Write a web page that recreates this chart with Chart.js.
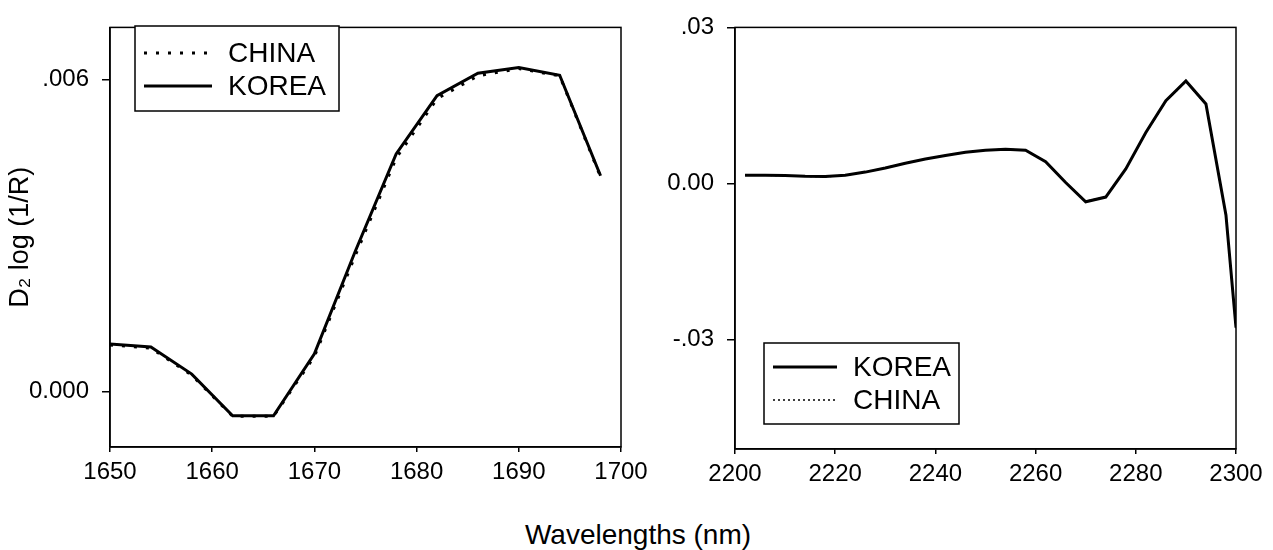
<!DOCTYPE html>
<html lang="en">
<head>
<meta charset="utf-8">
<title>D2 log (1/R) - China vs Korea</title>
<script src="https://cdn.jsdelivr.net/npm/chart.js@4.4.0/dist/chart.umd.min.js"></script>
<style>
  body {
    margin: 0;
    width: 1273px;
    height: 550px;
    position: relative;
    overflow: hidden;
    background: #fff;
    font-family: "Liberation Sans", Arial, sans-serif;
  }
  #left { position: absolute; left: 0; top: 0; }
  #right { position: absolute; left: 660px; top: 0; }
  #xlabel {
    position: absolute;
    left: 0;
    width: 1276px;
    top: 519px;
    line-height: 32px;
    text-align: center;
    font-size: 28px;
    color: #000;
  }
</style>
</head>
<body>
<canvas id="left" width="660" height="500"></canvas>
<canvas id="right" width="613" height="500"></canvas>
<div id="xlabel">Wavelengths (nm)</div>
<script>
// left panel (1650-1700 nm)
const leftWavelengths = [1650, 1654, 1658, 1662, 1666, 1670, 1674, 1678, 1682, 1686, 1690, 1694, 1698];
const leftChina = [0.00090, 0.00084, 0.00032, -0.00047, -0.00047, 0.00068, 0.00262, 0.00449, 0.00563, 0.00607, 0.00621, 0.00607, 0.00413];
const leftKorea = [0.00092, 0.00086, 0.00034, -0.00046, -0.00046, 0.00073, 0.00270, 0.00457, 0.00569, 0.00612, 0.00623, 0.00608, 0.00415];
const leftYTicks = [0, 0.006];
const leftYLabels = ["0.000", ".006"];

// right panel (2200-2300 nm)
const rightWavelengths = [2202, 2206, 2210, 2214, 2218, 2222, 2226, 2230, 2234, 2238, 2242, 2246, 2250,
  2254, 2258, 2262, 2266, 2270, 2274, 2278, 2282, 2286, 2290, 2294, 2298, 2300];
const rightKorea = [0.0016, 0.0016, 0.00155, 0.0014, 0.00135, 0.0016, 0.0022, 0.0030, 0.0039, 0.0047, 0.0054, 0.0060, 0.0064,
  0.0066, 0.0064, 0.0042, 0.0002, -0.0035, -0.0026, 0.0028, 0.0098, 0.0159, 0.0197, 0.0153, -0.0061, -0.0277];
const rightChina = [0.0016, 0.0016, 0.00150, 0.0014, 0.00130, 0.0016, 0.0022, 0.0030, 0.0039, 0.0047, 0.0054, 0.0060, 0.0064,
  0.0066, 0.0064, 0.0042, 0.0002, -0.0034, -0.0026, 0.0028, 0.0097, 0.0158, 0.0196, 0.0152, -0.0062, -0.0278];
const rightYTicks = [-0.03, 0, 0.03];
const rightYLabels = ["-.03", "0.00", ".03"];

const FONT = '"Liberation Sans", Arial, sans-serif';

// box around the plot area
const framePlugin = {
  id: "frame",
  afterDatasetsDraw(chart) {
    const { ctx, chartArea: a } = chart;
    ctx.save();
    ctx.strokeStyle = "#000";
    ctx.lineWidth = 1.5;
    ctx.strokeRect(a.left, a.top, a.right - a.left, a.bottom - a.top);
    ctx.restore();
  }
};

// legend drawn as a framed box inside the plot
const boxLegend = {
  id: "boxLegend",
  afterDraw(chart, args, o) {
    const ctx = chart.ctx;
    ctx.save();
    ctx.fillStyle = "#fff";
    ctx.fillRect(o.x, o.y, o.w, o.h);
    ctx.strokeStyle = "#000";
    ctx.lineWidth = 1.5;
    ctx.strokeRect(o.x, o.y, o.w, o.h);
    ctx.font = "28px " + FONT;
    ctx.textBaseline = "middle";
    ctx.fillStyle = "#000";
    o.order.forEach((di, i) => {
      const ds = chart.data.datasets[di];
      const y = o.rowY[i];
      ctx.beginPath();
      ctx.lineWidth = ds.borderWidth;
      ctx.lineCap = "butt";
      ctx.setLineDash(ds.borderDash || []);
      ctx.moveTo(o.lineX0, y);
      ctx.lineTo(o.lineX1, y);
      ctx.stroke();
      ctx.setLineDash([]);
      ctx.fillText(ds.label, o.textX, y + 1);
    });
    ctx.restore();
  }
};

function pts(xs, ys) {
  return xs.map((x, i) => ({ x: x, y: ys[i] }));
}

function makePanel(canvas, cfg) {
  return new Chart(canvas, {
    type: "line",
    data: { datasets: cfg.datasets },
    plugins: [framePlugin, boxLegend],
    options: {
      responsive: false,
      animation: false,
      layout: { padding: cfg.padding },
      elements: { point: { radius: 0 }, line: { tension: 0 } },
      plugins: {
        legend: { display: false },
        tooltip: { enabled: false },
        boxLegend: cfg.legend
      },
      scales: {
        x: {
          type: "linear",
          min: cfg.xMin,
          max: cfg.xMax,
          afterFit: (s) => { s.height = cfg.xHeight; },
          ticks: {
            stepSize: cfg.xStep,
            color: "#000",
            padding: 6,
            maxRotation: 0,
            font: { family: FONT, size: 24 },
            callback: (v) => String(v)
          },
          grid: { drawOnChartArea: false, drawTicks: true, tickLength: 5, color: "#000", lineWidth: 1.5 },
          border: { display: true, color: "#000", width: 1.5 }
        },
        y: {
          min: cfg.yMin,
          max: cfg.yMax,
          afterFit: (s) => { s.width = cfg.yWidth; },
          afterBuildTicks: (s) => { s.ticks = cfg.yTicks.map((v) => ({ value: v })); },
          ticks: {
            color: "#000",
            padding: 13,
            font: { family: FONT, size: 24 },
            callback: (v) => cfg.yLabels[cfg.yTicks.indexOf(v)]
          },
          grid: { drawOnChartArea: false, drawTicks: true, tickLength: 8, color: "#000", lineWidth: 1.5 },
          border: { display: true, color: "#000", width: 1.5 },
          title: cfg.yTitle
        }
      }
    }
  });
}

makePanel(document.getElementById("left"), {
  datasets: [
    { label: "CHINA", data: pts(leftWavelengths, leftChina), borderColor: "#000", borderWidth: 3, borderDash: [3, 9] },
    { label: "KOREA", data: pts(leftWavelengths, leftKorea), borderColor: "#000", borderWidth: 3 }
  ],
  padding: { top: 15, right: 39, left: 0, bottom: 0 },
  xMin: 1650, xMax: 1700, xStep: 10, xHeight: 53,
  yMin: -0.00106, yMax: 0.0070, yWidth: 110,
  yTicks: leftYTicks, yLabels: leftYLabels,
  yTitle: { display: true, text: "D\u2082 log (1/R)", color: "#000", font: { family: FONT, size: 27 }, padding: { top: 4, bottom: 0 } },
  legend: { x: 135, y: 26, w: 204, h: 85, order: [0, 1], rowY: [53, 86], lineX0: 144, lineX1: 212, textX: 228 }
});

makePanel(document.getElementById("right"), {
  datasets: [
    { label: "KOREA", data: pts(rightWavelengths, rightKorea), borderColor: "#000", borderWidth: 3 },
    { label: "CHINA", data: pts(rightWavelengths, rightChina), borderColor: "#000", borderWidth: 1.5, borderDash: [2, 3] }
  ],
  padding: { top: 18, right: 37, left: 0, bottom: 0 },
  xMin: 2200, xMax: 2300, xStep: 20, xHeight: 51,
  yMin: -0.051, yMax: 0.03, yWidth: 75,
  yTicks: rightYTicks, yLabels: rightYLabels,
  yTitle: { display: false },
  legend: { x: 104, y: 343, w: 195, h: 81, order: [0, 1], rowY: [367, 400], lineX0: 113, lineX1: 177, textX: 193 }
});
</script>
</body>
</html>
